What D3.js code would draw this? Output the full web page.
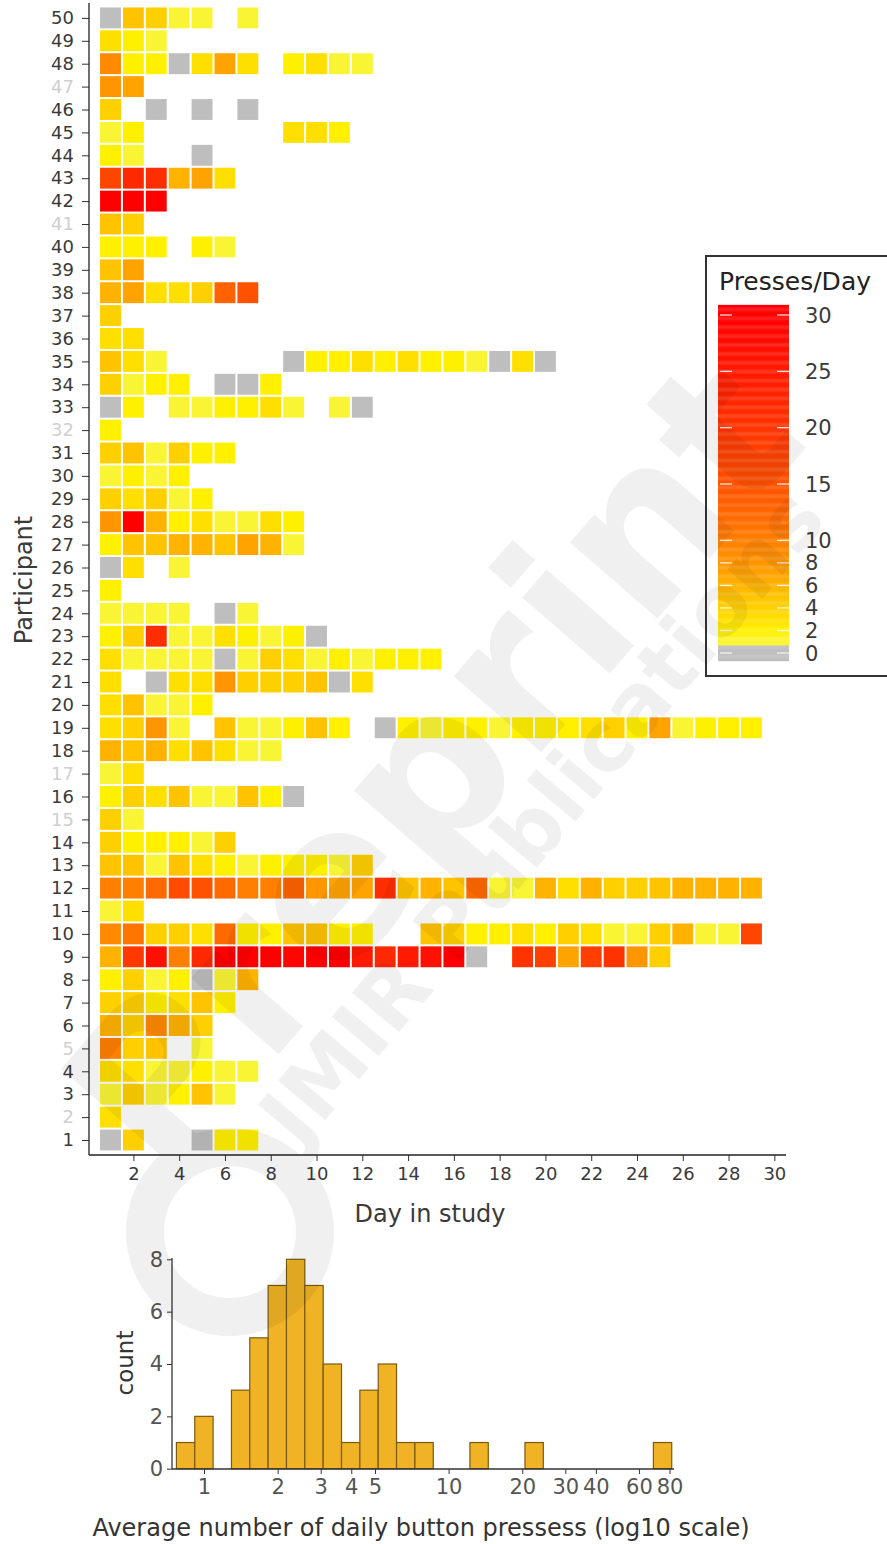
<!DOCTYPE html>
<html><head><meta charset="utf-8">
<script src="https://cdn.jsdelivr.net/npm/d3@7"></script>
<style>
body{margin:0;background:#fff;}
svg{display:block;}
text{font-family:"DejaVu Sans",sans-serif;}
</style>
</head><body>
<svg id="chart" width="887" height="1544"></svg>
<script>
// ---------------- DATA ----------------
const participants = d3.range(1, 51);
const dayTicks = [2,4,6,8,10,12,14,16,18,20,22,24,26,28,30];
const legendTicks = [0,2,4,6,8,10,15,20,25,30];
const greyedParticipants = [2,5,15,17,32,41,47];
const n = null;
// presses per day, index = day-1 ; null = no record, 0 = zero presses
const pressesByParticipant = [
  /* 1 */ [0,4,n,n,0,2,2],
  /* 2 */ [3],
  /* 3 */ [1,4,1,2,5,1],
  /* 4 */ [3,3,1,1,2,1,1],
  /* 5 */ [10,4,5,n,1],
  /* 6 */ [6,4,9,6,4],
  /* 7 */ [4,4,2,3,5,2],
  /* 8 */ [2,4,1,2,0,1,6],
  /* 9 */ [6,19,27,10,22,30,30,30,29,30,30,25,22,25,27,30,0,n,20,18,7,18,20,8,4],
  /* 10 */ [9,11,4,4,3,12,2,2,5,5,2,2,n,n,5,4,2,2,3,2,4,3,1,1,4,6,1,1,17],
  /* 11 */ [1,3],
  /* 12 */ [10,10,12,16,15,12,10,10,13,8,7,7,21,5,6,5,12,1,1,6,3,6,4,4,5,6,6,6,6],
  /* 13 */ [5,5,1,5,3,2,1,2,2,2,1,4],
  /* 14 */ [4,2,2,2,1,4],
  /* 15 */ [4,1],
  /* 16 */ [2,4,3,5,1,1,5,2,0],
  /* 17 */ [1,3],
  /* 18 */ [6,5,6,3,5,3,1,1],
  /* 19 */ [3,4,8,1,n,5,1,1,2,5,2,n,0,2,1,2,2,1,2,2,2,3,4,2,7,1,2,2,2],
  /* 20 */ [3,5,1,1,2],
  /* 21 */ [3,n,0,3,3,8,4,4,4,5,0,3],
  /* 22 */ [3,1,1,1,1,0,1,4,3,1,2,1,2,2,2],
  /* 23 */ [2,4,21,1,1,3,2,1,2,0],
  /* 24 */ [1,1,1,1,n,0,1],
  /* 25 */ [2],
  /* 26 */ [0,3,n,1],
  /* 27 */ [2,5,5,6,6,5,7,6,1],
  /* 28 */ [8,30,6,2,3,1,1,3,2],
  /* 29 */ [4,3,4,1,2],
  /* 30 */ [1,2,1,2],
  /* 31 */ [4,5,1,4,2,2],
  /* 32 */ [2],
  /* 33 */ [0,2,n,1,1,2,2,3,1,n,1,0],
  /* 34 */ [4,1,2,2,n,0,0,2],
  /* 35 */ [5,3,1,n,n,n,n,n,0,2,2,3,2,3,2,2,1,0,3,0],
  /* 36 */ [3,3],
  /* 37 */ [4],
  /* 38 */ [6,7,3,3,4,13,15],
  /* 39 */ [5,7],
  /* 40 */ [2,2,2,n,2,1],
  /* 41 */ [5,4],
  /* 42 */ [30,30,30],
  /* 43 */ [17,22,21,6,7,3],
  /* 44 */ [2,1,n,n,0],
  /* 45 */ [1,2,n,n,n,n,n,n,3,3,2],
  /* 46 */ [4,n,0,n,0,n,0],
  /* 47 */ [8,7],
  /* 48 */ [9,2,2,0,3,7,3,n,2,3,1,1],
  /* 49 */ [3,2,1],
  /* 50 */ [0,5,4,1,1,n,1]
];
// histogram of per-participant average daily presses (log10 bins)
const histCounts = [1,2,0,3,5,7,8,7,4,1,3,4,1,1,0,0,1,0,0,1,0,0,0,0,0,0,1];
const histLogStart = -0.1128;   // log10 of first bin's lower edge
const histLogWidth = 0.075;     // bin width in log10 units
const histXTicks = [1,2,3,4,5,10,20,30,40,60,80];
const histYTicks = [0,2,4,6,8];

// colour scale stops
const colorStops = [1,2,3,4,5,6,7,8,9,10,12,15,20,25,30];
const colorRange = ["#f9f535","#fff000","#ffdf00","#ffd000","#ffc300","#ffb200","#ffa300","#ff9500","#ff8a00","#ff7f00","#ff6a00","#ff5200","#ff3300","#ff1a00","#ff0000"];
const zeroColor = "#bebebe";

// ---------------- DRAW ----------------
const svg = d3.select("#chart");
const textCol = "#3a3a3a";
const colorScale = d3.scaleLinear().domain(colorStops).range(colorRange).clamp(true);
const cellColor = v => v === 0 ? zeroColor : colorScale(v);

const x = d3.scaleLinear().domain([0.5, 30.5]).range([99.05, 785.8]);
const y = d3.scaleLinear().domain([0.5, 50.5]).range([1151.45, 6.45]);
const cw = x(1) - x(0), ch = y(0) - y(1);

const cells = [];
pressesByParticipant.forEach((row, i) => {
  row.forEach((v, j) => { if (v !== null) cells.push({p: i + 1, d: j + 1, v}); });
});

const heat = svg.append("g");
heat.selectAll("rect").data(cells).join("rect")
  .attr("x", d => x(d.d) - cw / 2 + 1)
  .attr("y", d => y(d.p) - ch / 2 + 1)
  .attr("width", cw - 2)
  .attr("height", ch - 2)
  .attr("fill", d => cellColor(d.v));

// y axis
const yAxis = d3.axisLeft(y).tickValues(participants).tickSize(7).tickSizeOuter(0).tickPadding(8);
const gy = svg.append("g").attr("transform", "translate(89,0)").call(yAxis);
gy.select(".domain").remove();
gy.append("line").attr("x1", 0).attr("x2", 0).attr("y1", 3).attr("y2", 1155).attr("stroke", "#222").attr("stroke-width", 1.3);
gy.selectAll(".tick line").attr("stroke", "#333");
gy.selectAll(".tick text").attr("font-size", 18).attr("font-family", "DejaVu Sans")
  .attr("fill", d => greyedParticipants.includes(d) ? "#cfcfcf" : textCol);

// x axis
const xAxis = d3.axisBottom(x).tickValues(dayTicks).tickSize(6).tickSizeOuter(0).tickPadding(6);
const gx = svg.append("g").attr("transform", "translate(0,1155)").call(xAxis);
gx.select(".domain").remove();
gx.append("line").attr("x1", 89).attr("x2", 786).attr("y1", 0).attr("y2", 0).attr("stroke", "#222").attr("stroke-width", 1.3);
gx.selectAll(".tick line").attr("stroke", "#333");
gx.selectAll(".tick text").attr("font-size", 18).attr("font-family", "DejaVu Sans").attr("fill", textCol);

svg.append("text").attr("x", 430).attr("y", 1222).attr("text-anchor", "middle")
  .attr("font-size", 24).attr("fill", textCol).text("Day in study");
svg.append("text").attr("transform", "translate(32,580) rotate(-90)").attr("text-anchor", "middle")
  .attr("font-size", 24).attr("fill", textCol).text("Participant");

// legend
const lg = svg.append("g");
lg.append("rect").attr("x", 706).attr("y", 256).attr("width", 200).attr("height", 420)
  .attr("fill", "#fff").attr("stroke", "#333").attr("stroke-width", 2);
lg.append("text").attr("x", 719).attr("y", 290).attr("font-size", 25).attr("fill", "#222").text("Presses/Day");
const ly = d3.scaleLinear().domain([0, 30]).range([653, 315]);
const strips = d3.range(-0.7, 30.9, 0.1);
lg.selectAll("rect.strip").data(strips).join("rect").attr("class", "strip")
  .attr("x", 718).attr("width", 71)
  .attr("y", d => ly(d + 0.1)).attr("height", ly(0) - ly(0.1) + 0.3)
  .attr("fill", d => d < 0.7 ? zeroColor : colorScale(Math.max(d, 1)));
legendTicks.forEach(t => {
  lg.append("line").attr("x1", 720).attr("x2", 732).attr("y1", ly(t)).attr("y2", ly(t)).attr("stroke", "#fff").attr("stroke-width", 1.3).attr("opacity", 0.85);
  lg.append("line").attr("x1", 777).attr("x2", 789).attr("y1", ly(t)).attr("y2", ly(t)).attr("stroke", "#fff").attr("stroke-width", 1.3).attr("opacity", 0.85);
  lg.append("text").attr("x", 805).attr("y", ly(t)).attr("dy", "0.36em").attr("font-size", 21).attr("fill", textCol).text(t);
});

// ---------------- HISTOGRAM ----------------
const hx = d3.scaleLog().domain([1, 80]).range([204, 669.5]);
const hy = d3.scaleLinear().domain([0, 8]).range([1468.7, 1259.3]);
const bins = histCounts.map((c, i) => ({
  lo: Math.pow(10, histLogStart + i * histLogWidth),
  hi: Math.pow(10, histLogStart + (i + 1) * histLogWidth),
  c
}));
const hg = svg.append("g");
hg.selectAll("rect").data(bins).join("rect")
  .attr("x", d => hx(d.lo)).attr("width", d => hx(d.hi) - hx(d.lo))
  .attr("y", d => hy(d.c)).attr("height", d => hy(0) - hy(d.c))
  .attr("fill", "#efb325").attr("stroke", "#7a5a12").attr("stroke-width", 1.2);

const hxAxis = d3.axisBottom(hx).tickValues(histXTicks).tickFormat(d3.format("d")).tickSize(5).tickSizeOuter(0).tickPadding(5);
const ghx = svg.append("g").attr("transform", "translate(0,1469)").call(hxAxis);
ghx.select(".domain").remove();
ghx.append("line").attr("x1", 172).attr("x2", 674).attr("stroke", "#333").attr("stroke-width", 1.3);
ghx.selectAll(".tick line").attr("stroke", "#333");
ghx.selectAll(".tick text").attr("font-size", 21).attr("font-family", "DejaVu Sans").attr("fill", "#555");

const hyAxis = d3.axisLeft(hy).tickValues(histYTicks).tickSize(5).tickSizeOuter(0).tickPadding(4);
const ghy = svg.append("g").attr("transform", "translate(172,0)").call(hyAxis);
ghy.select(".domain").remove();
ghy.append("line").attr("y1", 1258).attr("y2", 1469).attr("stroke", "#333").attr("stroke-width", 1.3);
ghy.selectAll(".tick line").attr("stroke", "#333");
ghy.selectAll(".tick text").attr("font-size", 21).attr("font-family", "DejaVu Sans").attr("fill", "#555");

svg.append("text").attr("transform", "translate(133,1363) rotate(-90)").attr("text-anchor", "middle")
  .attr("font-size", 23).attr("fill", "#333").text("count");
svg.append("text").attr("x", 421).attr("y", 1536).attr("text-anchor", "middle")
  .attr("font-size", 24).attr("fill", "#333").text("Average number of daily button pressess (log10 scale)");

// ---------------- WATERMARK ----------------
const wm = svg.append("g").attr("pointer-events", "none").attr("opacity", 0.062);
wm.append("text").attr("transform", "translate(165,1185) rotate(-49)")
  .attr("font-size", 212).attr("font-weight", "bold").attr("fill", "#000").text("Preprint");
wm.append("text").attr("transform", "translate(300,1150) rotate(-50)")
  .attr("font-size", 84).attr("font-weight", "bold").attr("fill", "#000").text("JMIR Publications");
wm.append("circle").attr("cx", 230).attr("cy", 1232).attr("r", 85).attr("fill", "none").attr("stroke", "#000").attr("stroke-width", 38);
</script>
</body></html>
